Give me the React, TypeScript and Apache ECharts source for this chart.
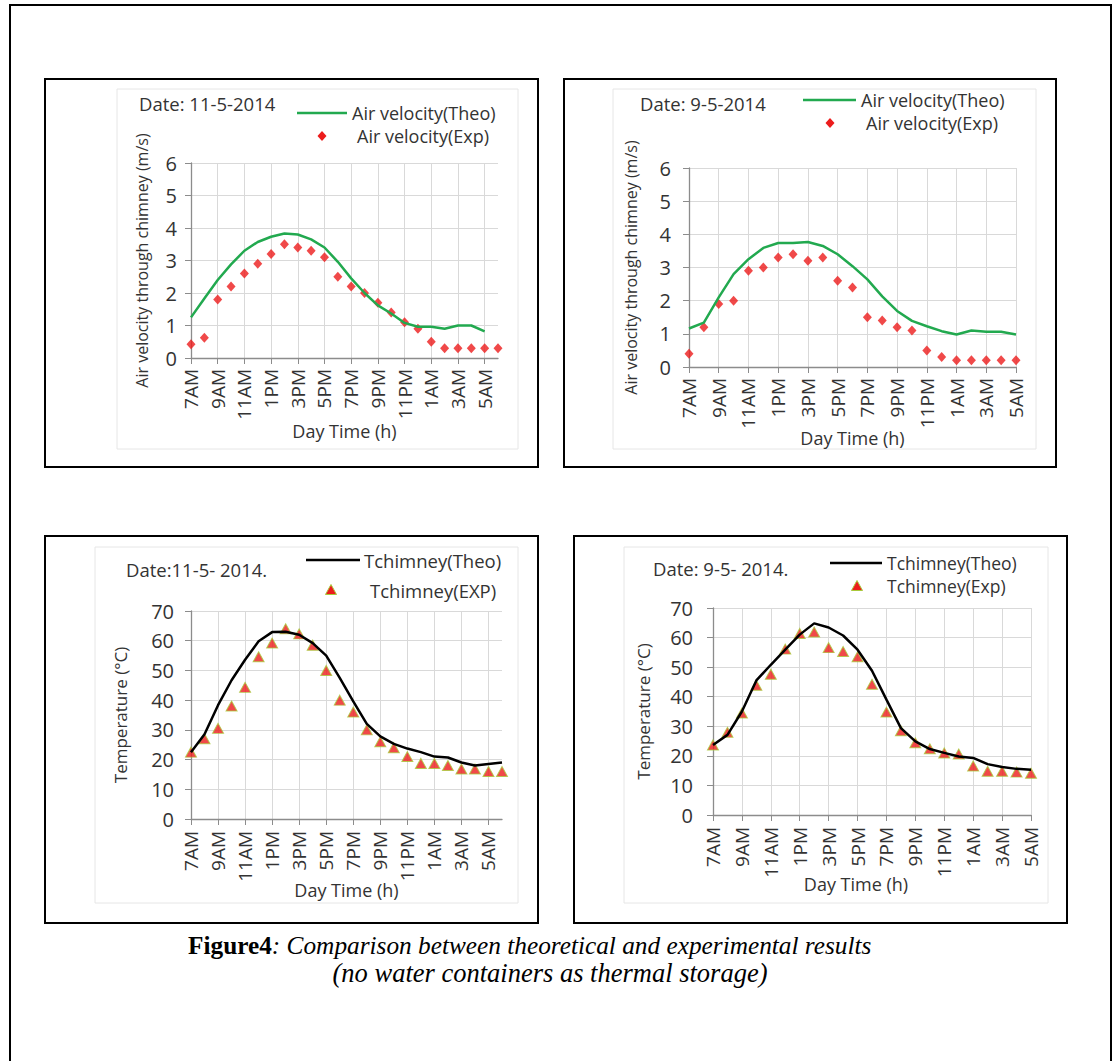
import React, { useEffect, useRef } from "react";
import * as echarts from "echarts";

// ---------- data ----------
const HOURS_FULL = [
  "7AM", "8AM", "9AM", "10AM", "11AM", "12PM", "1PM", "2PM", "3PM", "4PM", "5PM", "6PM",
  "7PM", "8PM", "9PM", "10PM", "11PM", "12AM", "1AM", "2AM", "3AM", "4AM", "5AM", "6AM",
];
const HOURS_SHORT = HOURS_FULL.slice(0, 23);

// 11-5-2014 air velocity (m/s)
const VEL_THEO_11 = [1.25, 1.83, 2.4, 2.88, 3.3, 3.57, 3.73, 3.83, 3.8, 3.65, 3.4, 2.96, 2.45, 2.0, 1.62, 1.37, 1.08, 0.96, 0.96, 0.9, 1.0, 1.0, 0.82, null];
const VEL_EXP_11 = [0.42, 0.62, 1.8, 2.2, 2.6, 2.9, 3.2, 3.5, 3.4, 3.3, 3.1, 2.5, 2.2, 2.0, 1.7, 1.4, 1.1, 0.9, 0.5, 0.3, 0.3, 0.3, 0.3, 0.3];

// 9-5-2014 air velocity (m/s)
const VEL_THEO_9 = [1.16, 1.34, 2.1, 2.8, 3.25, 3.59, 3.74, 3.74, 3.77, 3.65, 3.4, 3.04, 2.64, 2.13, 1.69, 1.39, 1.23, 1.08, 0.98, 1.1, 1.06, 1.06, 0.98];
const VEL_EXP_9 = [0.4, 1.2, 1.9, 2.0, 2.9, 3.0, 3.3, 3.4, 3.2, 3.3, 2.6, 2.4, 1.5, 1.4, 1.2, 1.1, 0.5, 0.3, 0.2, 0.2, 0.2, 0.2, 0.2];

// 11-5-2014 chimney temperature (°C)
const TEMP_THEO_11 = [22.5, 28.5, 38.3, 46.7, 53.6, 59.8, 62.9, 63.0, 62.0, 59.2, 55.0, 47.5, 39.6, 32.0, 27.8, 25.3, 23.7, 22.5, 21.0, 20.7, 19.0, 18.0, 18.5, 19.0];
const TEMP_EXP_11 = [22.5, 27, 30.5, 38, 44.3, 54.6, 59.2, 64, 62.3, 58.5, 50, 40, 36, 30, 26, 24, 21, 18.7, 18.7, 18, 16.8, 16.8, 16, 16];

// 9-5-2014 chimney temperature (°C)
const TEMP_THEO_9 = [23.7, 27.1, 35, 45.5, 50.8, 55.9, 61, 64.8, 63.4, 60.7, 55.9, 48.8, 39, 29.4, 24.9, 22.3, 21, 19.8, 19.3, 17.2, 16.2, 15.6, 15.3];
const TEMP_EXP_9 = [23.7, 28, 34.5, 43.9, 47.6, 56.1, 61.4, 61.9, 56.6, 55.3, 53.5, 44.2, 34.8, 28.5, 24.4, 22.4, 21, 20.6, 16.6, 14.8, 14.8, 14.5, 14.1];

const NAMES = {
  velTheo: "Air velocity(Theo)",
  velExp: "Air velocity(Exp)",
  tTheo: "Tchimney(Theo)",
  tExpA: "Tchimney(EXP)",
  tExpB: "Tchimney(Exp)",
};

// ---------- styles ----------
const FONT = "Open Sans";
const SERIF = "Liberation Serif";
const TEXT = "#333333";
const AXIS = "#8c8c8c";
const GRID = "#d9d9d9";
const GREEN = "#22a94f";
const RED = "#ec1c1c";
const TRI_EDGE = "#a9c93a";

function xAxisCfg(gridIndex: number, data: string[], nameGap: number, namePad: number[], labelMargin: number) {
  return {
    gridIndex,
    type: "category",
    data,
    boundaryGap: false,
    name: "Day Time (h)",
    nameLocation: "middle",
    nameGap,
    nameMoveOverlap: false,
    nameTextStyle: { fontFamily: FONT, fontSize: 18, color: TEXT, padding: namePad },
    axisLine: { show: true, lineStyle: { color: AXIS, width: 1.3 } },
    axisTick: { show: true, interval: 1, length: 6, lineStyle: { color: AXIS } },
    axisLabel: {
      show: true,
      interval: 1,
      rotate: 90,
      margin: labelMargin,
      fontFamily: FONT,
      fontSize: 19,
      color: TEXT,
    },
    splitLine: { show: true, interval: 1, lineStyle: { color: GRID, width: 1 } },
  };
}

function yAxisCfg(
  gridIndex: number, max: number, interval: number, name: string,
  nameGap: number, nameSize: number, labelMargin: number,
) {
  return {
    gridIndex,
    type: "value",
    min: 0,
    max,
    interval,
    name,
    nameLocation: "middle",
    nameGap,
    nameMoveOverlap: false,
    nameTextStyle: { fontFamily: FONT, fontSize: nameSize, color: TEXT },
    axisLine: { show: true, lineStyle: { color: AXIS, width: 1.3 } },
    axisTick: { show: true, length: 6, lineStyle: { color: AXIS } },
    axisLabel: { show: true, margin: labelMargin, fontFamily: FONT, fontSize: 20, color: TEXT },
    splitLine: { show: true, lineStyle: { color: GRID, width: 1 } },
  };
}

function frame(x1: number, y1: number, x2: number, y2: number, color: string, w: number) {
  return {
    type: "rect",
    silent: true,
    shape: { x: x1, y: y1, width: x2 - x1, height: y2 - y1 },
    style: { fill: "none", stroke: color, lineWidth: w },
  };
}

function label(x: number, y: number, text: string, size: number) {
  return {
    type: "text",
    silent: true,
    x,
    y,
    style: { text, fontFamily: FONT, fontSize: size, fill: TEXT, align: "left", verticalAlign: "middle" },
  };
}

function legendLine(x1: number, x2: number, y: number, color: string) {
  return {
    type: "line",
    silent: true,
    shape: { x1, y1: y, x2, y2: y },
    style: { stroke: color, lineWidth: 2.5 },
  };
}

function legendDiamond(cx: number, cy: number) {
  return {
    type: "polygon",
    silent: true,
    shape: { points: [[cx, cy - 5], [cx + 4.5, cy], [cx, cy + 5], [cx - 4.5, cy]] },
    style: { fill: RED },
  };
}

function legendTriangle(cx: number, cy: number) {
  return {
    type: "polygon",
    silent: true,
    shape: { points: [[cx, cy - 5.5], [cx + 5.5, cy + 4.5], [cx - 5.5, cy + 4.5]] },
    style: { fill: RED, stroke: TRI_EDGE, lineWidth: 1 },
  };
}

export default function App() {
  const ref = useRef<HTMLDivElement>(null);

  useEffect(() => {
    if (!ref.current) return;
    const chart = echarts.init(ref.current, null, { renderer: "svg", width: 1113, height: 1061 });

    const option = {
      animation: false,
      backgroundColor: "#ffffff",
      textStyle: { fontFamily: FONT },
      grid: [
        { left: 191, top: 163, width: 307, height: 195, outerBoundsMode: "none", containLabel: false },
        { left: 689, top: 168, width: 327, height: 199, outerBoundsMode: "none", containLabel: false },
        { left: 191, top: 611, width: 311, height: 208, outerBoundsMode: "none", containLabel: false },
        { left: 713, top: 608, width: 318, height: 207, outerBoundsMode: "none", containLabel: false },
      ],
      xAxis: [
        xAxisCfg(0, HOURS_FULL, 64, [0, 0, 0, 0], 11),
        xAxisCfg(1, HOURS_SHORT, 62, [0, 0, 0, 0], 11),
        xAxisCfg(2, HOURS_FULL, 62, [0, 0, 0, 0], 12),
        xAxisCfg(3, HOURS_SHORT, 60, [0, 32, 0, 0], 12),
      ],
      yAxis: [
        yAxisCfg(0, 6, 1, "Air velocity through chimney (m/s)", 41, 16, 14),
        yAxisCfg(1, 6, 1, "Air velocity through chimney (m/s)", 50, 16, 18),
        yAxisCfg(2, 70, 10, "Temperature (°C)", 62, 17, 17),
        yAxisCfg(3, 70, 10, "Temperature (°C)", 61, 17, 20),
      ],
      series: [
        {
          name: NAMES.velTheo, type: "line", xAxisIndex: 0, yAxisIndex: 0, data: VEL_THEO_11,
          symbol: "none", showSymbol: false, lineStyle: { color: GREEN, width: 2.5 }, itemStyle: { color: GREEN },
        },
        {
          name: NAMES.velExp, type: "scatter", xAxisIndex: 0, yAxisIndex: 0, data: VEL_EXP_11,
          symbol: "diamond", symbolSize: [9, 10], itemStyle: { color: RED },
        },
        {
          name: NAMES.velTheo, type: "line", xAxisIndex: 1, yAxisIndex: 1, data: VEL_THEO_9,
          symbol: "none", showSymbol: false, lineStyle: { color: GREEN, width: 2.5 }, itemStyle: { color: GREEN },
        },
        {
          name: NAMES.velExp, type: "scatter", xAxisIndex: 1, yAxisIndex: 1, data: VEL_EXP_9,
          symbol: "diamond", symbolSize: [9, 10], itemStyle: { color: RED },
        },
        {
          name: NAMES.tTheo, type: "line", xAxisIndex: 2, yAxisIndex: 2, data: TEMP_THEO_11,
          symbol: "none", showSymbol: false, lineStyle: { color: "#000", width: 2.5 }, itemStyle: { color: "#000" },
        },
        {
          name: NAMES.tExpA, type: "scatter", xAxisIndex: 2, yAxisIndex: 2, data: TEMP_EXP_11,
          symbol: "triangle", symbolSize: [11, 10],
          itemStyle: { color: RED, borderColor: TRI_EDGE, borderWidth: 1 },
        },
        {
          name: NAMES.tTheo, type: "line", xAxisIndex: 3, yAxisIndex: 3, data: TEMP_THEO_9,
          symbol: "none", showSymbol: false, lineStyle: { color: "#000", width: 2.5 }, itemStyle: { color: "#000" },
        },
        {
          name: NAMES.tExpB, type: "scatter", xAxisIndex: 3, yAxisIndex: 3, data: TEMP_EXP_9,
          symbol: "triangle", symbolSize: [11, 10],
          itemStyle: { color: RED, borderColor: TRI_EDGE, borderWidth: 1 },
        },
      ],
      graphic: [
        // page frame
        frame(10, 5, 1111, 1100, "#000", 2),
        // panel frames
        frame(45, 79, 538, 467, "#000", 2),
        frame(564, 79, 1056, 467, "#000", 2),
        frame(45, 536, 538, 923, "#000", 2),
        frame(574, 536, 1067, 923, "#000", 2),
        // chart-area borders
        frame(117, 89, 518, 449, "#e6e6e6", 1),
        frame(613, 89, 1036, 449, "#e6e6e6", 1),
        frame(95, 547, 518, 903, "#e6e6e6", 1),
        frame(624, 547, 1048, 903, "#e6e6e6", 1),
        // dates
        label(139, 103, "Date: 11-5-2014", 18.5),
        label(640, 103, "Date: 9-5-2014", 18.5),
        label(126, 569, "Date:11-5- 2014.", 18.5),
        label(653, 568, "Date: 9-5- 2014.", 18.5),
        // legends
        legendLine(297, 347, 113, GREEN),
        label(352, 113, NAMES.velTheo, 18),
        legendDiamond(322, 136),
        label(357, 136, NAMES.velExp, 18),

        legendLine(803, 856, 100, GREEN),
        label(861, 100, NAMES.velTheo, 18),
        legendDiamond(830, 123),
        label(866, 123, NAMES.velExp, 18),

        legendLine(306, 360, 560, "#000"),
        label(364, 560, NAMES.tTheo, 18.5),
        legendTriangle(331, 590),
        label(370, 590, NAMES.tExpA, 18.5),

        legendLine(830, 882, 563, "#000"),
        label(887, 563, NAMES.tTheo, 17.5),
        legendTriangle(857, 586),
        label(887, 586, NAMES.tExpB, 17.5),
        // caption
        {
          type: "text",
          silent: true,
          x: 188,
          y: 945,
          style: {
            text: "{b|Figure4}{i|: Comparison between theoretical and experimental results}",
            align: "left",
            verticalAlign: "middle",
            rich: {
              b: { fontFamily: SERIF, fontSize: 25.3, fontWeight: "bold", fill: "#000" },
              i: { fontFamily: SERIF, fontSize: 25.3, fontStyle: "italic", fill: "#000" },
            },
          },
        },
        {
          type: "text",
          silent: true,
          x: 550,
          y: 973,
          style: {
            text: "(no water containers as thermal storage)",
            fontFamily: SERIF,
            fontSize: 26.5,
            fontStyle: "italic",
            fill: "#000",
            align: "center",
            verticalAlign: "middle",
          },
        },
      ],
    };

    chart.setOption(option as any);
    return () => chart.dispose();
  }, []);

  return (
    <div
      ref={ref}
      style={{ position: "absolute", left: 0, top: 0, width: 1113, height: 1061, background: "#fff" }}
    />
  );
}
